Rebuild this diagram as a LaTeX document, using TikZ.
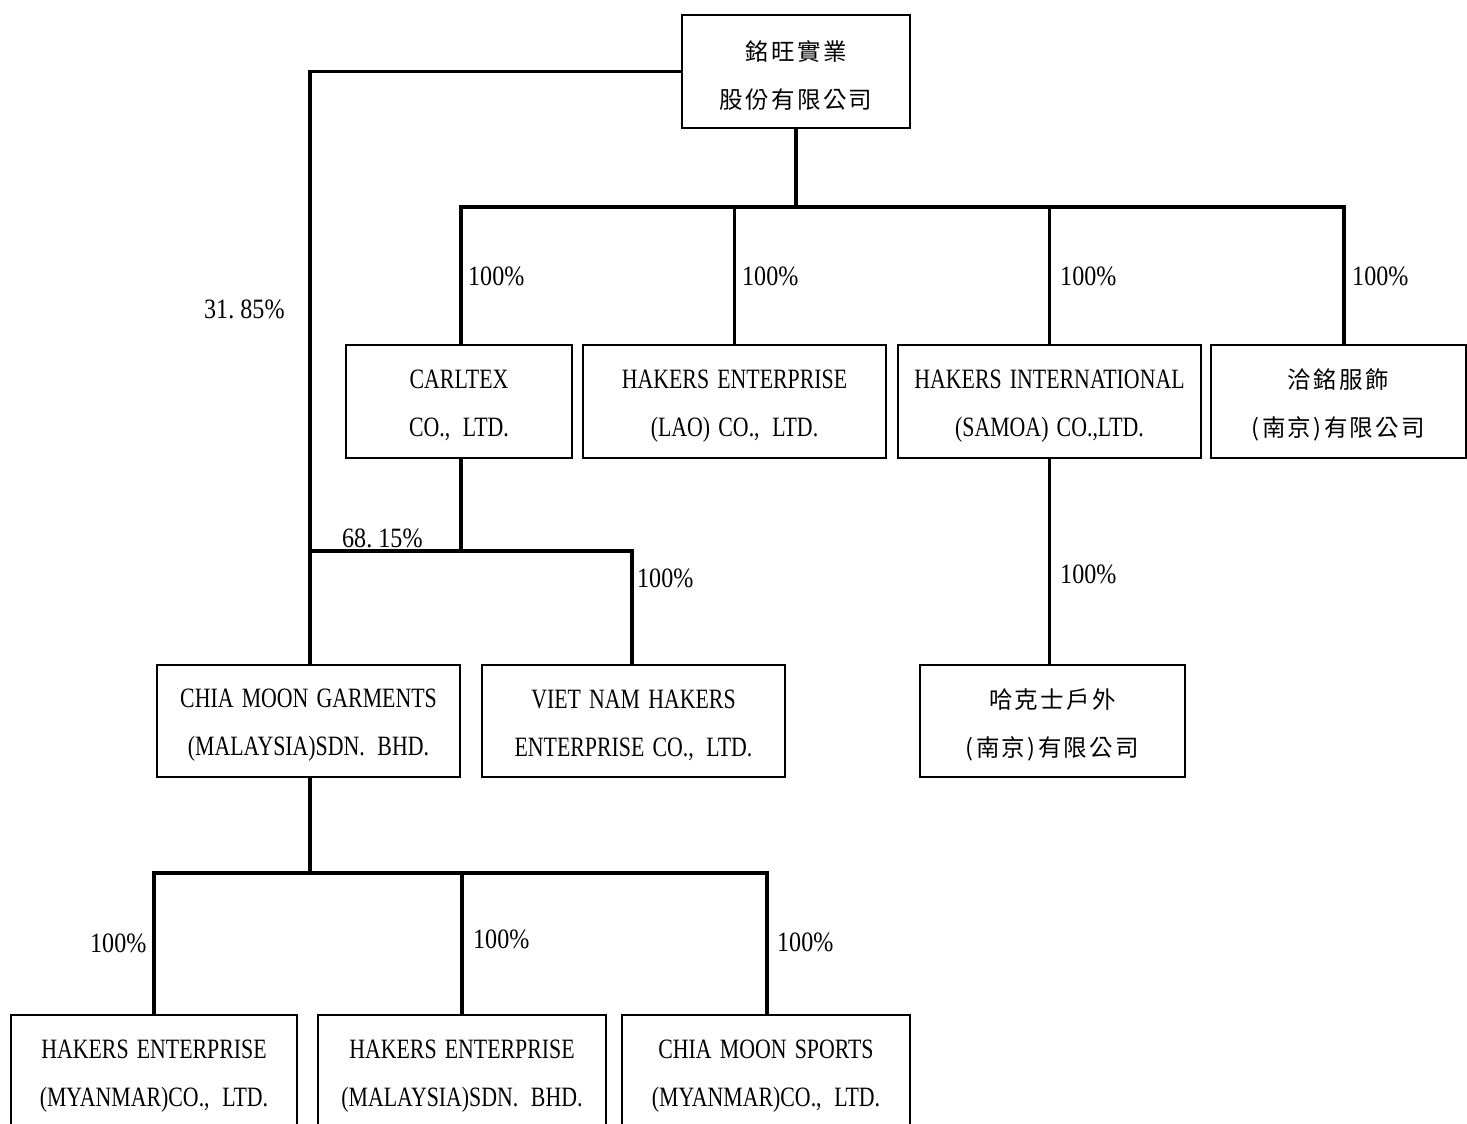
\documentclass[tikz,border=0pt]{standalone}
\usepackage{fontspec}
\setmainfont[FakeStretch=0.78,WordSpace=1.5]{Liberation Serif}
\newfontfamily\pctfont[FakeStretch=0.86]{Liberation Serif}
\newfontfamily\cjk[LetterSpace=10]{Noto Sans CJK TC}
\newcommand\Tstrut{\rule{0pt}{27pt}}
\newcommand\cgap{\hspace{0.45em}}
\begin{document}
\begin{tikzpicture}[x=1pt,y=-1pt,
  box/.style={draw,line width=2pt,align=center,inner sep=0pt,
     font=\fontsize{28}{48}\selectfont},
  cbox/.style={box,font=\cjk\fontsize{23.5}{48}\selectfont},
  conn/.style={line width=3.2pt,line cap=rect},
  pct/.style={font=\pctfont\fontsize{28}{30}\selectfont,inner sep=0pt,anchor=base west}]
\useasboundingbox (0,0) rectangle (1467,1124);
% boxes
\node[cbox,minimum width=228pt,minimum height=113pt] (top) at (796,71.5) {\Tstrut 銘旺實業\\股份有限公司};
\node[box,minimum width=226pt,minimum height=113pt] (carl) at (459,401.5) {\Tstrut CARLTEX\\CO.,\cgap LTD.};
\node[box,minimum width=303pt,minimum height=113pt] (lao) at (734.5,401.5) {\Tstrut HAKERS ENTERPRISE\\(LAO) CO.,\cgap LTD.};
\node[box,minimum width=303pt,minimum height=113pt] (samoa) at (1049.5,401.5) {\Tstrut HAKERS INTERNATIONAL\\(SAMOA) CO.,LTD.};
\node[cbox,minimum width=255pt,minimum height=113pt] (nj) at (1338.5,401.5) {\Tstrut 洽銘服飾\\(南京)有限公司};
\node[box,minimum width=303pt,minimum height=112pt] (cmg) at (308.5,721) {\Tstrut CHIA MOON GARMENTS\\(MALAYSIA)SDN.\cgap BHD.};
\node[box,minimum width=303pt,minimum height=112pt] (vn) at (633.5,721) {\Tstrut VIET NAM HAKERS\\ENTERPRISE CO.,\cgap LTD.};
\node[cbox,minimum width=265pt,minimum height=112pt] (hk) at (1052.5,721) {\Tstrut 哈克士戶外\\(南京)有限公司};
\node[box,minimum width=286pt,minimum height=113pt] (b1) at (154,1071.5) {\Tstrut HAKERS ENTERPRISE\\(MYANMAR)CO.,\cgap LTD.};
\node[box,minimum width=288pt,minimum height=113pt] (b2) at (462,1071.5) {\Tstrut HAKERS ENTERPRISE\\(MALAYSIA)SDN.\cgap BHD.};
\node[box,minimum width=288pt,minimum height=113pt] (b3) at (766,1071.5) {\Tstrut CHIA MOON SPORTS\\(MYANMAR)CO.,\cgap LTD.};
% buses
\coordinate (bus1) at (795,207);
\coordinate (bus2) at (461,551);
\coordinate (bus3) at (310,873);
% connectors
\draw[conn] (top.west) -| ([xshift=1.5pt]cmg.north);
\draw[conn] (top.south) -- (top.south |- bus1);
\draw[conn] ([xshift=2pt]carl.north |- bus1) -- ([xshift=5.5pt]nj.north |- bus1);
\draw[conn] ([xshift=2pt]carl.north |- bus1) -- ([xshift=2pt]carl.north);
\draw[conn] (lao.north |- bus1) -- (lao.north);
\draw[conn] (samoa.north |- bus1) -- (samoa.north);
\draw[conn] ([xshift=5.5pt]nj.north |- bus1) -- ([xshift=5.5pt]nj.north);
\draw[conn] ([xshift=2pt]carl.south) -- ([xshift=2pt]carl.south |- bus2);
\draw[conn] ([xshift=1.5pt]cmg.north |- bus2) -| ([xshift=-1.5pt]vn.north);
\draw[conn] (samoa.south) -- (samoa.south |- hk.north);
\draw[conn] ([xshift=1.5pt]cmg.south) -- ([xshift=1.5pt]cmg.south |- bus3);
\draw[conn] (b1.north |- bus3) -- ([xshift=1pt]b3.north |- bus3);
\draw[conn] (b1.north |- bus3) -- (b1.north);
\draw[conn] (b2.north |- bus3) -- (b2.north);
\draw[conn] ([xshift=1pt]b3.north |- bus3) -- ([xshift=1pt]b3.north);
% labels
\node[pct] (l0) at (204,318) {31.\hspace{0.22em}85\%};
\node[pct] (l1) at (468,285) {100\%};
\node[pct] (l2) at (742,285) {100\%};
\node[pct] (l3) at (1060,285) {100\%};
\node[pct] (l4) at (1352,285) {100\%};
\node[pct] (l5) at (342,547) {68.\hspace{0.22em}15\%};
\node[pct] (l6) at (637,587) {100\%};
\node[pct] (l7) at (1060,583) {100\%};
\node[pct] (l8) at (90,952) {100\%};
\node[pct] (l9) at (473,948) {100\%};
\node[pct] (l10) at (777,951) {100\%};
\end{tikzpicture}
\end{document}
